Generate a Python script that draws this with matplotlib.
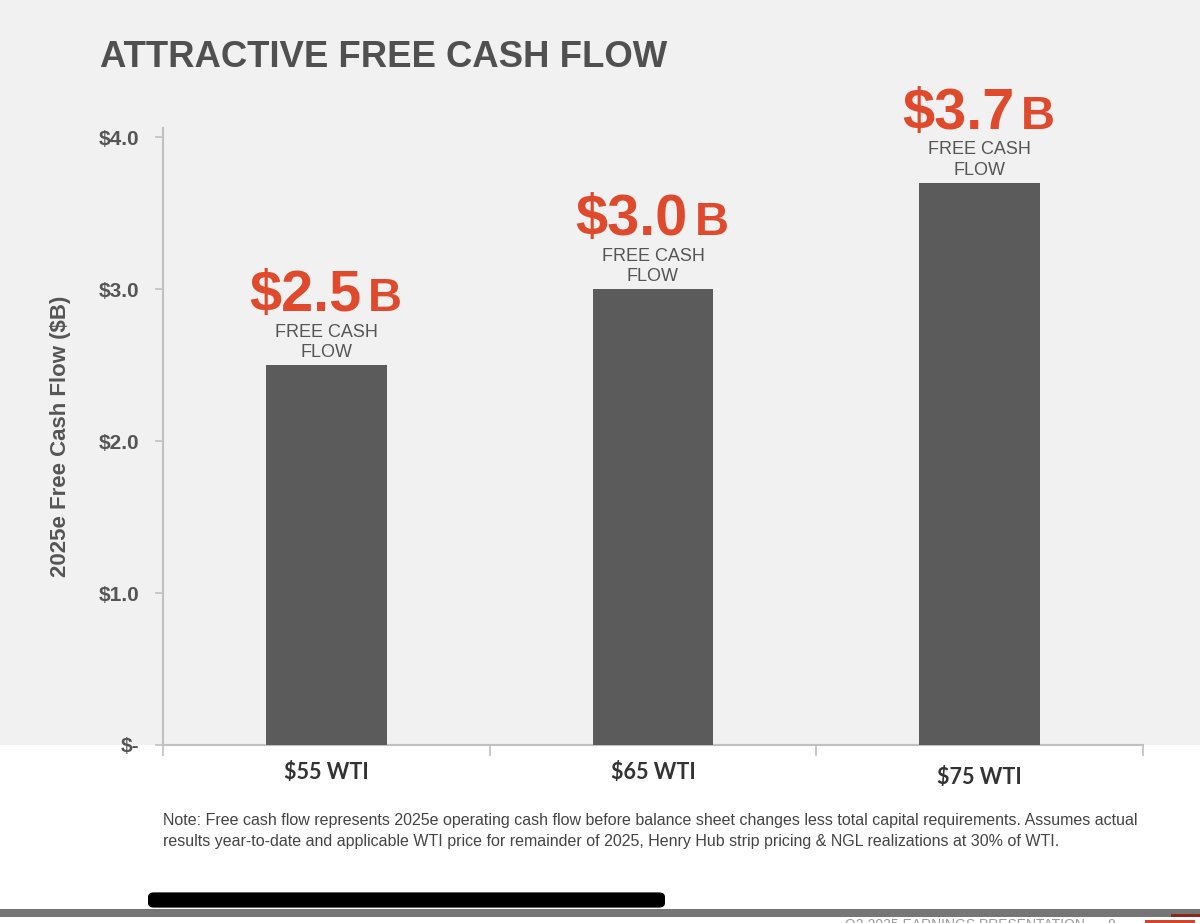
import matplotlib
matplotlib.use("Agg")
import matplotlib.pyplot as plt
from matplotlib.patches import Rectangle, FancyBboxPatch

categories = ["$55 WTI", "$65 WTI", "$75 WTI"]
fcf = [2.5, 3.0, 3.7]
big_labels = ["$2.5", "$3.0", "$3.7"]
yticks = [0, 1, 2, 3, 4]
ytick_labels = ["$-", "$1.0", "$2.0", "$3.0", "$4.0"]

W, H = 1200, 923
RED = "#e04a2c"
BAR = "#5b5b5b"
GRAY = "#555555"

plt.rcParams['font.family'] = ['Liberation Sans', 'DejaVu Sans']

fig = plt.figure(figsize=(W / 100, H / 100), dpi=100)
fig.patch.set_facecolor("white")

# light slide background above the axis line
fig.patches.append(Rectangle((0, 1 - 745 / H), 1, 745 / H, transform=fig.transFigure,
                             facecolor="#f1f1f1", edgecolor="none", zorder=-10))

ax = fig.add_axes([163 / W, 1 - 745 / H, (1143 - 163) / W, (745 - 128) / H])
ax.set_facecolor("none")
ax.set_zorder(2)

x = list(range(len(categories)))
ax.bar(x, fcf, width=0.37, color=BAR, zorder=3)

ax.set_xlim(-0.5, 2.5)
ax.set_ylim(0, 4.06)
ax.set_yticks(yticks)
ax.set_yticklabels(ytick_labels, fontsize=15, fontweight="bold", color=GRAY)
ax.set_xticks(x)
ax.set_xticklabels(categories, fontsize=15.5, fontweight="bold", color="#333333",
                   family=["Lato", "Liberation Sans"])
ax.set_xticks([-0.5, 0.5, 1.5, 2.5], minor=True)
ax.tick_params(axis="x", which="major", length=0, pad=12)
ax.tick_params(axis="x", which="minor", length=8, color="#c0c0c0", width=1.2)
ax.tick_params(axis="y", length=6, color="#c0c0c0", width=1.2, pad=11)
for lbl in ax.get_xticklabels():
    if lbl.get_text() == "$75 WTI":
        lbl.set_y(-0.008)

for s in ["top", "right"]:
    ax.spines[s].set_visible(False)
for s in ["left", "bottom"]:
    ax.spines[s].set_color("#c0c0c0")
    ax.spines[s].set_linewidth(1.5)

ax.set_ylabel("2025e Free Cash Flow ($B)", fontsize=16, fontweight="bold", color=GRAY,
              labelpad=20)

for xi, v, lab in zip(x, fcf, big_labels):
    ax.annotate("FREE CASH\nFLOW", (xi, v), xytext=(0, 3), textcoords="offset points",
                ha="center", va="bottom", fontsize=13, color=GRAY, linespacing=1.25)
    ax.annotate(lab, (xi, v), xytext=(25, 39), textcoords="offset points",
                ha="right", va="baseline", fontsize=41.5, fontweight="bold", color=RED)
    ax.annotate("B", (xi, v), xytext=(30, 39), textcoords="offset points",
                ha="left", va="baseline", fontsize=34, fontweight="bold", color=RED)

fig.text(100 / W, 1 - 67 / H, "ATTRACTIVE FREE CASH FLOW", fontsize=26.3, fontweight="bold",
         color="#505050", va="baseline")

note = ("Note: Free cash flow represents 2025e operating cash flow before balance sheet changes less "
        "total capital requirements. Assumes actual\nresults year-to-date and applicable WTI price "
        "for remainder of 2025, Henry Hub strip pricing & NGL realizations at 30% of WTI.")
fig.text(163 / W, 1 - 813 / H, note, fontsize=11.5, color="#444444", va="top", linespacing=1.5)

# footer decorations
fig.patches.append(FancyBboxPatch((154 / W, 1 - 903 / H), 505 / W, 6 / H,
                                  boxstyle="round,pad=0.005", transform=fig.transFigure,
                                  facecolor="black", edgecolor="none"))
fig.patches.append(Rectangle((0, 1 - 917 / H), 1, 8 / H, transform=fig.transFigure,
                             facecolor="#767676", edgecolor="none"))
fig.patches.append(Rectangle((1171 / W, 1 - 917 / H), 29 / W, 3 / H, transform=fig.transFigure,
                             facecolor="#8b2a1c", edgecolor="none"))
fig.patches.append(Rectangle((1145 / W, 0), 50 / W, 3 / H, transform=fig.transFigure,
                             facecolor="#d2452b", edgecolor="none"))
fig.text(845 / W, 1 - 918 / H, "Q2 2025 EARNINGS PRESENTATION      9", fontsize=10,
         color="#9a9a9a", va="top")

fig.savefig("out.png", dpi=100, facecolor=fig.get_facecolor())
